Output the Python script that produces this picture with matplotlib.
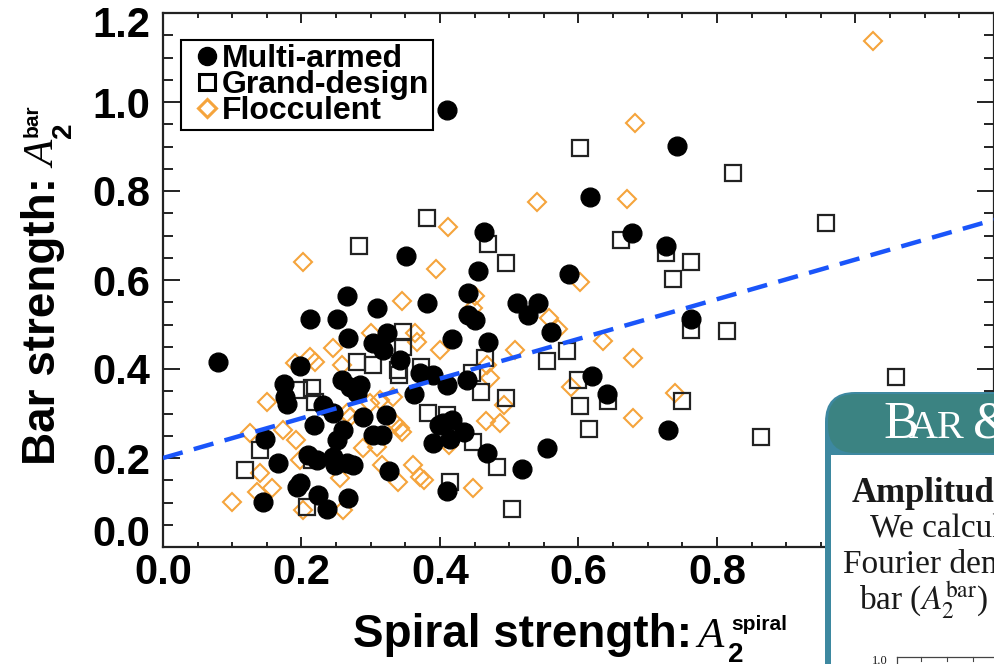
import matplotlib
matplotlib.use("Agg")
import matplotlib.pyplot as plt
from matplotlib.patches import FancyBboxPatch, Rectangle
from matplotlib.lines import Line2D
from matplotlib.transforms import ScaledTranslation
import numpy as np

plt.rcParams['font.family'] = ['Liberation Sans', 'DejaVu Sans']
plt.rcParams['mathtext.fontset'] = 'stix'

# ---- data: spiral strength (A2 spiral) vs bar strength (A2 bar) ----
multi_x = [0.079, 0.410, 0.742, 0.616, 0.677, 0.726, 0.463, 0.455, 0.440, 0.587,
           0.351, 0.266, 0.309, 0.381, 0.212, 0.251, 0.440, 0.450, 0.511, 0.541,
           0.527, 0.560, 0.469, 0.763, 0.620, 0.641, 0.729, 0.554, 0.439, 0.434,
           0.468, 0.410, 0.418, 0.404, 0.414, 0.519, 0.410, 0.267, 0.323, 0.303,
           0.317, 0.342, 0.418, 0.198, 0.175, 0.176, 0.179, 0.258, 0.270, 0.284,
           0.280, 0.218, 0.231, 0.245, 0.289, 0.322, 0.362, 0.371, 0.390, 0.147,
           0.260, 0.251, 0.303, 0.316, 0.398, 0.390, 0.209, 0.222, 0.166, 0.245,
           0.248, 0.266, 0.274, 0.198, 0.193, 0.224, 0.144, 0.237, 0.267, 0.326]
multi_y = [0.416, 0.982, 0.901, 0.787, 0.706, 0.676, 0.708, 0.620, 0.571, 0.613,
           0.654, 0.564, 0.537, 0.548, 0.512, 0.512, 0.521, 0.510, 0.548, 0.548,
           0.521, 0.483, 0.461, 0.512, 0.384, 0.344, 0.263, 0.222, 0.375, 0.258,
           0.211, 0.364, 0.285, 0.279, 0.243, 0.175, 0.126, 0.470, 0.481, 0.458,
           0.443, 0.420, 0.467, 0.407, 0.366, 0.337, 0.321, 0.375, 0.360, 0.364,
           0.346, 0.274, 0.319, 0.301, 0.292, 0.297, 0.344, 0.391, 0.387, 0.243,
           0.263, 0.240, 0.252, 0.252, 0.274, 0.234, 0.207, 0.196, 0.189, 0.202,
           0.184, 0.189, 0.184, 0.144, 0.135, 0.117, 0.101, 0.085, 0.110, 0.171]

grand_x = [0.602, 0.823, 0.957, 0.662, 0.469, 0.495, 0.726, 0.762, 0.736, 0.763,
           0.814, 0.583, 0.554, 0.465, 0.446, 0.459, 0.495, 0.600, 0.602, 0.642,
           0.749, 0.615, 0.864, 0.447, 0.482, 0.414, 0.504, 1.059, 0.283, 0.381,
           0.346, 0.346, 0.280, 0.303, 0.339, 0.341, 0.372, 0.215, 0.196, 0.219,
           0.140, 0.118, 0.208, 0.382, 0.410, 0.215]
grand_y = [0.897, 0.840, 0.728, 0.690, 0.681, 0.638, 0.661, 0.640, 0.602, 0.488,
           0.485, 0.440, 0.418, 0.425, 0.391, 0.348, 0.335, 0.375, 0.317, 0.328,
           0.328, 0.265, 0.247, 0.236, 0.180, 0.146, 0.085, 0.382, 0.676, 0.739,
           0.483, 0.449, 0.416, 0.409, 0.398, 0.387, 0.404, 0.357, 0.353, 0.326,
           0.218, 0.173, 0.090, 0.301, 0.297, 0.196]

floc_x = [1.025, 0.681, 0.540, 0.670, 0.411, 0.394, 0.602, 0.450, 0.558, 0.571,
          0.509, 0.635, 0.678, 0.468, 0.472, 0.589, 0.492, 0.466, 0.486, 0.678,
          0.739, 0.447, 0.413, 0.447, 0.202, 0.345, 0.245, 0.300, 0.364, 0.367,
          0.400, 0.190, 0.212, 0.219, 0.258, 0.332, 0.335, 0.342, 0.345, 0.289,
          0.266, 0.270, 0.299, 0.313, 0.192, 0.173, 0.150, 0.126, 0.140, 0.157,
          0.136, 0.100, 0.255, 0.198, 0.316, 0.339, 0.361, 0.371, 0.377, 0.260,
          0.202, 0.309]
floc_y = [1.137, 0.953, 0.775, 0.782, 0.719, 0.625, 0.596, 0.564, 0.515, 0.490,
          0.443, 0.463, 0.425, 0.409, 0.380, 0.360, 0.319, 0.283, 0.279, 0.290,
          0.346, 0.537, 0.229, 0.133, 0.640, 0.553, 0.447, 0.481, 0.481, 0.461,
          0.443, 0.413, 0.427, 0.416, 0.409, 0.337, 0.279, 0.267, 0.258, 0.222,
          0.301, 0.292, 0.324, 0.330, 0.240, 0.263, 0.326, 0.256, 0.166, 0.133,
          0.124, 0.101, 0.155, 0.196, 0.184, 0.146, 0.184, 0.157, 0.151, 0.083,
          0.083, 0.225]

fit_x = [0.0, 1.2]
fit_intercept = 0.20
fit_slope = 0.446

x_ticks = [0.0, 0.2, 0.4, 0.6, 0.8, 1.0, 1.2]
x_tick_labels = ['0.0', '0.2', '0.4', '0.6', '0.8', '', '']
y_ticks = [0.0, 0.2, 0.4, 0.6, 0.8, 1.0, 1.2]
y_tick_labels = ['0.0', '0.2', '0.4', '0.6', '0.8', '1.0', '1.2']
series_names = ['Multi-armed', 'Grand-design', 'Flocculent']

ORANGE = '#F5A43C'
BLUE = '#1A55FA'
SANS = ['Liberation Sans', 'DejaVu Sans']
SERIF = ['Liberation Serif', 'DejaVu Serif']

W, H = 995, 664
fig = plt.figure(figsize=(W / 100, H / 100), dpi=100)


def fx(px):
    return px / W


def fy(py):
    return 1 - py / H


ax = fig.add_axes([fx(163), fy(547), (994 - 163) / W, (547 - 13) / H])
ax.set_xlim(0, 1.2)
ax.set_ylim(0, 1.2)

ax.plot(floc_x, floc_y, ls='none', marker='D', ms=9.2, mfc='none',
        mec=ORANGE, mew=1.5, zorder=2)
ax.plot(grand_x, grand_y, ls='none', marker='s', ms=12, mfc='none',
        mec='#222222', mew=1.6, zorder=3)
ax.plot(multi_x, multi_y, ls='none', marker='o', ms=13.5, color='black',
        mec='black', zorder=4)

fit_arr = np.array(fit_x)
ax.plot(fit_arr, fit_intercept + fit_slope * fit_arr, color=BLUE, lw=3.2,
        dashes=(4.6, 2.6), zorder=5)

ax.set_xticks(x_ticks)
ax.set_xticklabels(x_tick_labels)
ax.set_yticks(y_ticks)
ax.set_yticklabels(y_tick_labels)
ax.set_xticks(np.arange(0, 1.2001, 0.05), minor=True)
ax.set_yticks(np.arange(0, 1.2001, 0.05), minor=True)
ax.tick_params(which='both', direction='in', top=True, right=True,
               width=1.4, color='#222222', labelsize=30)
ax.tick_params(axis='x', which='major', length=7.2, pad=4)
ax.tick_params(axis='x', which='minor', length=3.6)
ax.tick_params(axis='y', which='major', length=12.2, pad=9)
ax.tick_params(axis='y', which='minor', length=7.2)
for lab in ax.get_xticklabels() + ax.get_yticklabels():
    lab.set_fontweight('bold')
ylabs = ax.get_yticklabels()
ylabs[0].set_transform(ylabs[0].get_transform()
                       + ScaledTranslation(0, 0.16, fig.dpi_scale_trans))
ylabs[-1].set_transform(ylabs[-1].get_transform()
                        + ScaledTranslation(0, -0.08, fig.dpi_scale_trans))
for sp in ax.spines.values():
    sp.set_linewidth(1.6)
    sp.set_color('#222222')

# x axis title: "Spiral strength: A_2^spiral"
fig.text(fx(353), fy(647), 'Spiral strength:', fontsize=33, fontweight='bold',
         family=SANS, ha='left', va='baseline')
fig.text(fx(697), fy(647), 'A', fontsize=31, family=SERIF, style='italic',
         ha='left', va='baseline')
fig.text(fx(728), fy(662), '2', fontsize=20, fontweight='bold', family=SANS,
         ha='left', va='baseline')
fig.text(fx(731), fy(630), 'spiral', fontsize=15, fontweight='bold',
         family=SANS, ha='left', va='baseline')

# y axis title: "Bar strength: A_2^bar"
rot = dict(rotation=90, rotation_mode='anchor', ha='left', va='baseline')
fig.text(fx(55), fy(465), 'Bar strength:', fontsize=33, fontweight='bold',
         family=SANS, **rot)
fig.text(fx(55), fy(168), 'A', fontsize=31, family=SERIF, style='italic', **rot)
fig.text(fx(71), fy(138), '2', fontsize=20, fontweight='bold', family=SANS, **rot)
fig.text(fx(38), fy(137), 'bar', fontsize=15, fontweight='bold', family=SANS,
         **rot)

handles = [
    Line2D([], [], ls='none', marker='o', ms=13, color='black'),
    Line2D([], [], ls='none', marker='s', ms=12, mfc='none', mec='black', mew=2.2),
    Line2D([], [], ls='none', marker='D', ms=9, mfc='none', mec=ORANGE, mew=2.2),
]
leg = ax.legend(handles, series_names,
                loc='upper left', bbox_to_anchor=(fx(181), fy(40)),
                bbox_transform=fig.transFigure, borderaxespad=0,
                frameon=True, fancybox=False, edgecolor='black', framealpha=1,
                prop={'size': 23, 'weight': 'bold', 'family': SANS},
                handlelength=1.4, handletextpad=-0.25, labelspacing=-0.12,
                borderpad=0.12)
leg.get_frame().set_linewidth(1.5)
leg.set_zorder(10)

# ---- neighbouring poster panel overlapping the corner ----
ov = fig.add_axes([0, 0, 1, 1], zorder=20)
ov.set_xlim(0, W)
ov.set_ylim(H, 0)
ov.axis('off')
ov.patch.set_alpha(0)

ov.add_patch(FancyBboxPatch((825, 392), 260, 400,
                            boxstyle='round,pad=0,rounding_size=30',
                            fc='#3D88A0', ec='none'))
ov.add_patch(FancyBboxPatch((828, 394), 260, 59,
                            boxstyle='round,pad=0,rounding_size=27',
                            fc='#3B8382', ec='none'))
ov.add_patch(Rectangle((831, 455), 260, 300, fc='white', ec='none'))

ov.text(883, 438, 'B', family=SERIF, fontsize=38, color='white',
        va='baseline', ha='left')
ov.text(909, 438, 'AR', family=SERIF, fontsize=29, color='white',
        va='baseline', ha='left')
ov.text(973, 438, '& SPIRAL', family=SERIF, fontsize=38, color='white',
        va='baseline', ha='left')
ov.text(852, 502, 'Amplitudes', family=SERIF, fontsize=25, color='#1a1a1a',
        fontweight='bold', va='baseline', ha='left')
ov.text(870, 537, 'We calculate the', family=SERIF, fontsize=24,
        color='#1a1a1a', va='baseline', ha='left')
ov.text(843, 573, 'Fourier density', family=SERIF, fontsize=24,
        color='#1a1a1a', va='baseline', ha='left')
ov.text(859, 610, 'bar ($A_2^{\\rm bar}$) and', family=SERIF, fontsize=24,
        color='#1a1a1a', va='baseline', ha='left')
ov.text(888, 661, '1.0', family=SERIF, fontsize=9, color='#1a1a1a',
        va='center', ha='right')
ov.plot([897, 1000], [657, 657], color='#444444', lw=0.9)
ov.plot([897, 897], [657, 670], color='#444444', lw=0.9)
for tx in [921, 947, 973]:
    ov.plot([tx, tx], [657, 661], color='#444444', lw=0.8)

fig.savefig('out.png', dpi=100)
